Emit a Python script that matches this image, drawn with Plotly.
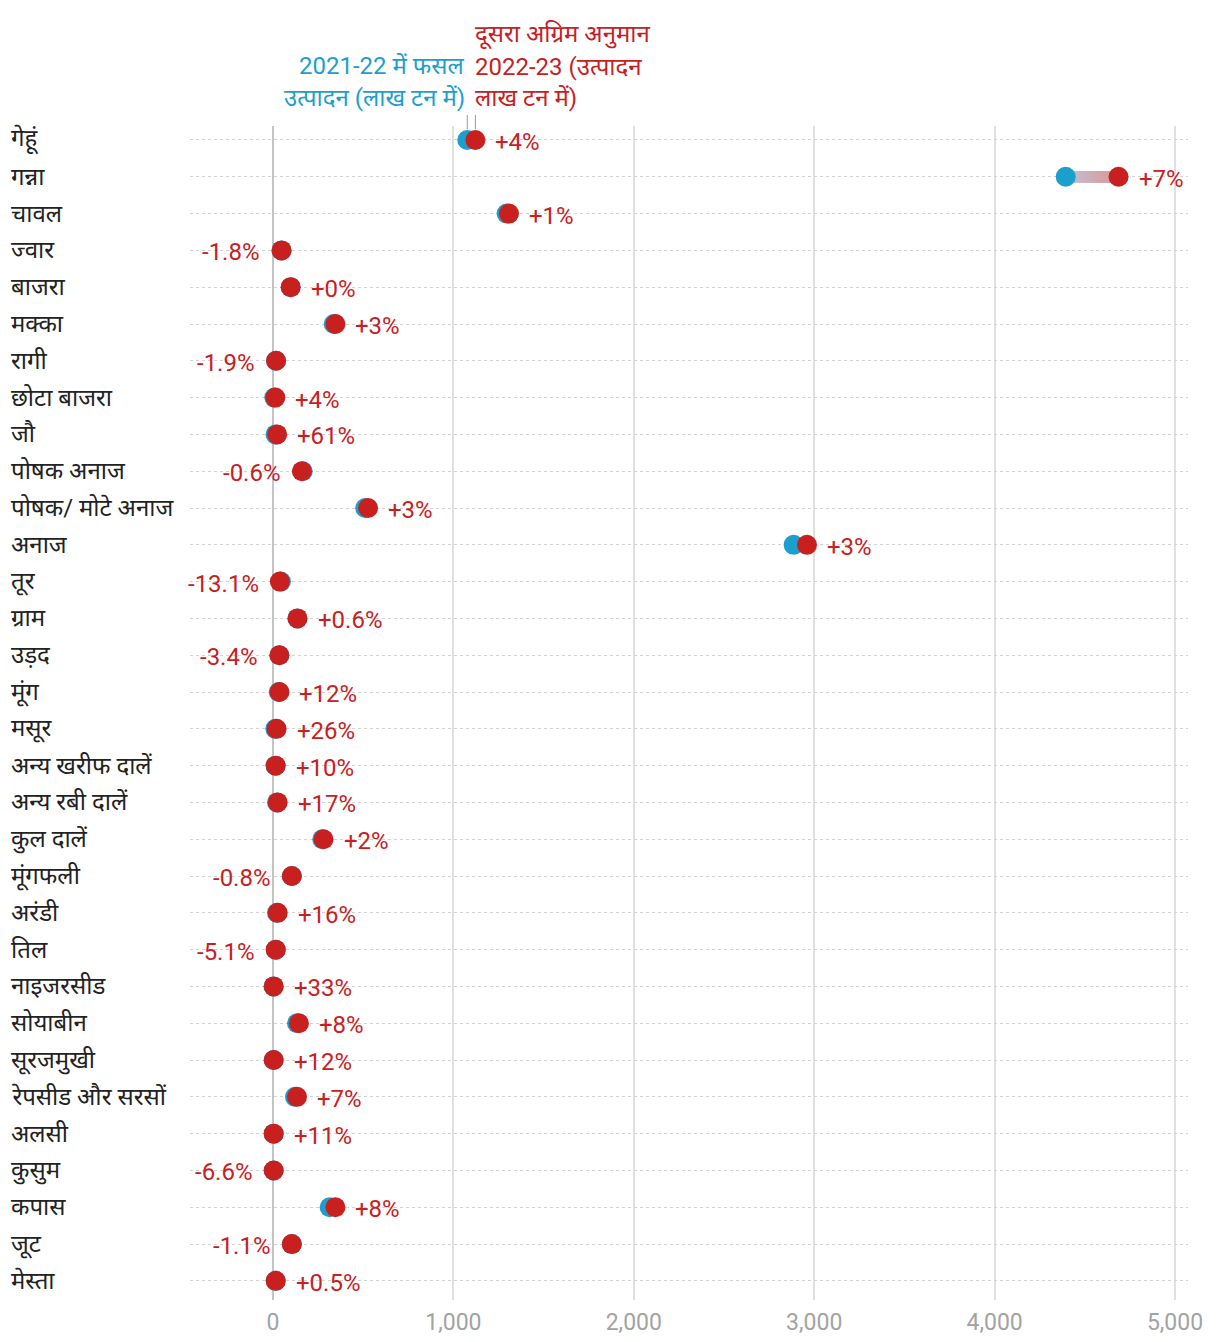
import plotly.graph_objects as go

crops = ["गेहूं", "गन्ना", "चावल", "ज्वार", "बाजरा", "मक्का", "रागी", "छोटा बाजरा", "जौ",
         "पोषक अनाज", "पोषक/ मोटे अनाज", "अनाज", "तूर", "ग्राम", "उड़द", "मूंग", "मसूर",
         "अन्य खरीफ दालें", "अन्य रबी दालें", "कुल दालें", "मूंगफली", "अरंडी", "तिल",
         "नाइजरसीड", "सोयाबीन", "सूरजमुखी", "रेपसीड और सरसों", "अलसी", "कुसुम", "कपास",
         "जूट", "मेस्ता"]
prod_2021_22 = [1077, 4394, 1295, 48, 98, 337, 17, 7, 14, 165, 511, 2886, 44, 135, 36, 32, 13,
                14, 22, 273, 105, 22, 16, 3, 133, 3.5, 122, 3.5, 4, 314, 105, 15]
prod_2022_23 = [1122, 4687, 1308, 47, 98, 346, 17, 13, 23, 160, 527, 2960, 38, 136, 35, 36, 20,
                15, 26, 280, 104, 26, 15, 4, 144, 4, 133, 4, 3.8, 346, 104, 15]
change_labels = ["+4%", "+7%", "+1%", "-1.8%", "+0%", "+3%", "-1.9%", "+4%", "+61%", "-0.6%",
                 "+3%", "+3%", "-13.1%", "+0.6%", "-3.4%", "+12%", "+26%", "+10%", "+17%", "+2%",
                 "-0.8%", "+16%", "-5.1%", "+33%", "+8%", "+12%", "+7%", "+11%", "-6.6%", "+8%",
                 "-1.1%", "+0.5%"]
x_ticks = [0, 1000, 2000, 3000, 4000, 5000]

BLUE = "#1c9fcd"
RED = "#c8201f"
FONT = "Roboto, 'Noto Sans', sans-serif"
FS = 24

fig = go.Figure()

# gradient connector (dense square markers between the two values)
gx, gy, gc = [], [], []
for c, a, b in zip(crops, prod_2021_22, prod_2022_23):
    n = max(2, int(abs(b - a) / 8))
    for i in range(n + 1):
        t = i / n
        gx.append(a + (b - a) * t)
        gy.append(c)
        gc.append(t if b >= a else 1 - t)
fig.add_trace(go.Scatter(
    x=gx, y=gy, mode="markers", hoverinfo="skip", showlegend=False,
    marker=dict(symbol="square", size=11, color=gc, line=dict(width=0),
                colorscale=[[0, "#b9c6d8"], [1, "#dc9a9a"]], cmin=0, cmax=1),
))

fig.add_trace(go.Scatter(x=prod_2021_22, y=crops, mode="markers", showlegend=False,
                         marker=dict(size=20, color=BLUE, line=dict(width=0))))
fig.add_trace(go.Scatter(x=prod_2022_23, y=crops, mode="markers", showlegend=False,
                         marker=dict(size=20, color=RED, line=dict(width=0))))

annotations = []
for c, a, b, lab in zip(crops, prod_2021_22, prod_2022_23, change_labels):
    if lab.startswith("-"):
        annotations.append(dict(x=min(a, b), y=c, xref="x", yref="y", text=lab, showarrow=False,
                                xanchor="right", xshift=-19, yshift=-2,
                                font=dict(family=FONT, size=FS, color=RED)))
    else:
        annotations.append(dict(x=max(a, b), y=c, xref="x", yref="y", text=lab, showarrow=False,
                                xanchor="left", xshift=18, yshift=-2,
                                font=dict(family=FONT, size=FS, color=RED)))
    annotations.append(dict(x=-0.1814, y=c, xref="paper", yref="y", text=c, showarrow=False,
                            xanchor="left", yshift=0,
                            font=dict(family=FONT, size=FS, color="#222222")))

# header annotations
H = 1174.0
def py(pix):
    return (1300 - pix) / H

blue_lines = ["2021-22 में फसल", "उत्पादन (लाख टन में)"]
red_lines = ["दूसरा अग्रिम अनुमान", "2022-23 (उत्पादन", "लाख टन में)"]
for i, t in enumerate(blue_lines):
    annotations.append(dict(x=prod_2021_22[0], y=py(66 + 32 * i), xref="x", yref="paper", text=t,
                            showarrow=False, xanchor="right", yanchor="middle", xshift=0,
                            font=dict(family=FONT, size=FS, color=BLUE)))
for i, t in enumerate(red_lines):
    annotations.append(dict(x=prod_2022_23[0], y=py(35 + 31.5 * i), xref="x", yref="paper", text=t,
                            showarrow=False, xanchor="left", yanchor="middle", xshift=-2,
                            font=dict(family=FONT, size=FS, color=RED)))

shapes = [
    dict(type="line", xref="x", yref="paper", x0=prod_2021_22[0], x1=prod_2021_22[0],
         y0=py(115), y1=py(129), line=dict(color="#999999", width=1)),
    dict(type="line", xref="x", yref="paper", x0=prod_2022_23[0], x1=prod_2022_23[0],
         y0=py(115), y1=py(129), line=dict(color="#999999", width=1)),
]

fig.update_layout(
    width=1220, height=1342,
    margin=dict(l=190, r=32, t=126, b=42, autoexpand=False),
    paper_bgcolor="white", plot_bgcolor="white",
    annotations=annotations, shapes=shapes,
    font=dict(family=FONT),
    xaxis=dict(range=[-460, 5072], tickvals=x_ticks, tickformat=",d", automargin=False,
               showgrid=True, gridcolor="#e0e0e0", gridwidth=2,
               zeroline=True, zerolinecolor="#c4c4c4", zerolinewidth=2,
               showline=False, ticks="", ticklabelstandoff=6,
               tickfont=dict(family=FONT, size=FS - 1, color="#a3a3a3")),
    yaxis=dict(categoryorder="array", categoryarray=crops, range=[31.52, -0.38],
               automargin=False,
               showticklabels=False, showgrid=True, gridcolor="#d2d2d2", griddash="dot",
               gridwidth=1, zeroline=False, ticks=""),
)

fig.write_html("out.html")
